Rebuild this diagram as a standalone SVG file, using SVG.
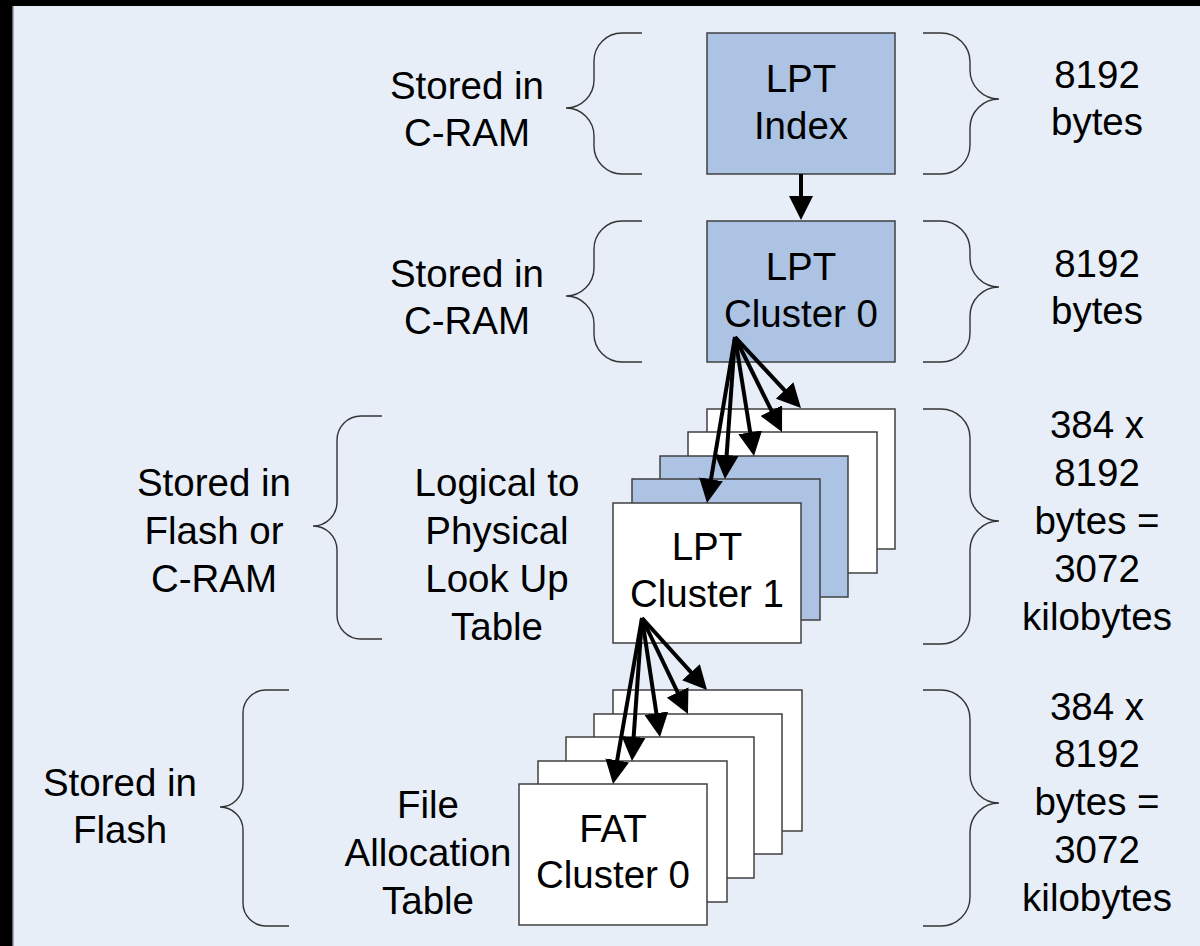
<svg xmlns="http://www.w3.org/2000/svg" width="1200" height="946" viewBox="0 0 1200 946">
<style>
.t{font-family:"Liberation Sans",Arial,sans-serif;font-size:38.5px;fill:#000;text-anchor:middle}
.box{stroke:#404040;stroke-width:1.5}
.blue{fill:#ADC3E3}
.white{fill:#FFFFFF}
.brace{fill:none;stroke:#333;stroke-width:1.4}
.arr{stroke:#000;stroke-width:4;fill:none;marker-end:url(#ah)}
</style>
<defs>
<marker id="ah" markerUnits="userSpaceOnUse" markerWidth="24" markerHeight="24" viewBox="0 0 24 24" refX="12" refY="12" orient="auto">
<path d="M0,0 L24,12 L0,24 Z" fill="#000"/>
</marker>
</defs>
<rect x="0" y="0" width="1200" height="946" fill="#E7EEF8"/>
<rect x="0" y="0" width="1200" height="6" fill="#000"/>
<rect x="0" y="0" width="12" height="946" fill="#000"/>
<rect x="12" y="6" width="1.5" height="940" fill="#666"/>

<g id="braces">
<path class="brace" d="M642,33 H622 A28 28 0 0 0 594,61 V80 A28 28 0 0 1 566,108 A28 28 0 0 1 594,136 V146 A28 28 0 0 0 622,174 H642"/>
<path class="brace" d="M642,221 H622 A28 28 0 0 0 594,249 V268 A28 28 0 0 1 566,296 A28 28 0 0 1 594,324 V334 A28 28 0 0 0 622,362 H642"/>
<path class="brace" d="M382,416 H361 A24 24 0 0 0 337,440 V502 A24 24 0 0 1 313,526 A24 24 0 0 1 337,550 V615 A24 24 0 0 0 361,639 H382"/>
<path class="brace" d="M289,690 H266 A23 23 0 0 0 243,713 V784 A23 23 0 0 1 220,807 A23 23 0 0 1 243,830 V903 A23 23 0 0 0 266,926 H289"/>
<path class="brace" d="M923,33 H941 A29 29 0 0 1 970,62 V70 A29 29 0 0 0 999,99 A29 29 0 0 0 970,128 V145 A29 29 0 0 1 941,174 H923"/>
<path class="brace" d="M923,221 H941 A29 29 0 0 1 970,250 V258 A29 29 0 0 0 999,287 A29 29 0 0 0 970,316 V333 A29 29 0 0 1 941,362 H923"/>
<path class="brace" d="M923,409 H941 A29 29 0 0 1 970,438 V492 A29 29 0 0 0 999,521 A29 29 0 0 0 970,550 V615 A29 29 0 0 1 941,644 H923"/>
<path class="brace" d="M923,690 H941 A29 29 0 0 1 970,719 V774 A29 29 0 0 0 999,803 A29 29 0 0 0 970,832 V897 A29 29 0 0 1 941,926 H923"/>
</g>

<g id="labels">
<text class="t" x="467" y="99">Stored in</text>
<text class="t" x="467" y="146">C-RAM</text>
<text class="t" x="1097" y="88">8192</text>
<text class="t" x="1097" y="135">bytes</text>
<text class="t" x="467" y="287">Stored in</text>
<text class="t" x="467" y="334">C-RAM</text>
<text class="t" x="1097" y="277">8192</text>
<text class="t" x="1097" y="324">bytes</text>
<text class="t" x="214" y="496">Stored in</text>
<text class="t" x="214" y="544">Flash or</text>
<text class="t" x="214" y="592">C-RAM</text>
<text class="t" x="497" y="496">Logical to</text>
<text class="t" x="497" y="544">Physical</text>
<text class="t" x="497" y="592">Look Up</text>
<text class="t" x="497" y="640">Table</text>
<text class="t" x="1097" y="438">384 x</text>
<text class="t" x="1097" y="486">8192</text>
<text class="t" x="1097" y="534">bytes =</text>
<text class="t" x="1097" y="582">3072</text>
<text class="t" x="1097" y="630">kilobytes</text>
<text class="t" x="120" y="796">Stored in</text>
<text class="t" x="120" y="843">Flash</text>
<text class="t" x="428" y="818">File</text>
<text class="t" x="428" y="866">Allocation</text>
<text class="t" x="428" y="914">Table</text>
<text class="t" x="1097" y="720">384 x</text>
<text class="t" x="1097" y="767">8192</text>
<text class="t" x="1097" y="815">bytes =</text>
<text class="t" x="1097" y="863">3072</text>
<text class="t" x="1097" y="911">kilobytes</text>
</g>

<g id="lpt-index">
<rect class="box blue" x="707" y="33" width="188" height="141"/>
<text class="t" x="801" y="92">LPT</text>
<text class="t" x="801" y="139">Index</text>
</g>
<g id="lpt-cluster-0">
<rect class="box blue" x="707" y="221" width="188" height="141"/>
<text class="t" x="801" y="280">LPT</text>
<text class="t" x="801" y="327">Cluster 0</text>
</g>
<g id="lpt-stack">
<rect class="box white" x="707" y="409" width="188" height="140"/>
<rect class="box white" x="688" y="432" width="189" height="141"/>
<rect class="box blue" x="660" y="456" width="188" height="141"/>
<rect class="box blue" x="632" y="479" width="188" height="141"/>
</g>
<g id="lpt-cluster-1">
<rect class="box white" x="613" y="503" width="188" height="140"/>
<text class="t" x="707" y="560">LPT</text>
<text class="t" x="707" y="607">Cluster 1</text>
</g>
<g id="fat-stack">
<rect class="box white" x="613" y="690" width="189" height="141"/>
<rect class="box white" x="594" y="714" width="188" height="140"/>
<rect class="box white" x="566" y="737" width="188" height="141"/>
<rect class="box white" x="538" y="761" width="189" height="141"/>
</g>
<g id="fat-cluster-0">
<rect class="box white" x="519" y="784" width="188" height="141"/>
<text class="t" x="613" y="842">FAT</text>
<text class="t" x="613" y="888">Cluster 0</text>
</g>

<g id="connectors">
<line class="arr" x1="801" y1="174" x2="801" y2="208"/>
<line class="arr" x1="735" y1="337" x2="709.0" y2="491.2"/>
<line class="arr" x1="735" y1="337" x2="725.8" y2="467.0"/>
<line class="arr" x1="735" y1="337" x2="752.1" y2="444.2"/>
<line class="arr" x1="735" y1="337" x2="776.7" y2="421.3"/>
<line class="arr" x1="735" y1="337" x2="792.8" y2="399.2"/>
<line class="arr" x1="642" y1="618" x2="615.1" y2="772.2"/>
<line class="arr" x1="642" y1="618" x2="632.8" y2="749.0"/>
<line class="arr" x1="642" y1="618" x2="658.2" y2="725.1"/>
<line class="arr" x1="642" y1="618" x2="682.8" y2="703.2"/>
<line class="arr" x1="642" y1="618" x2="699.0" y2="681.1"/>
</g>
</svg>
